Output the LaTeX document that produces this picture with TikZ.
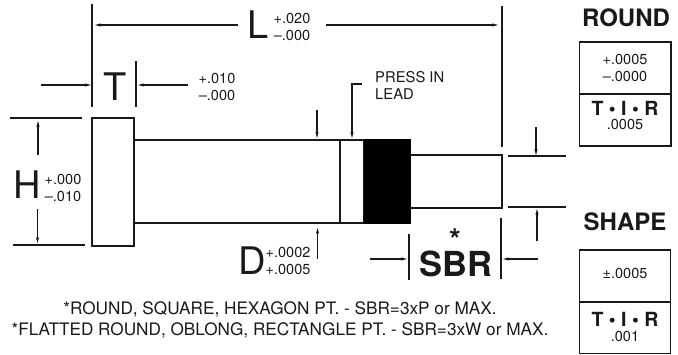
\documentclass[tikz,border=0pt]{standalone}
\usepackage{fontspec}
\setmainfont{TeX Gyre Heros}
\usetikzlibrary{arrows.meta}
\tikzset{
  part/.style={draw=black!90,line width=1.8pt},
  ext/.style={draw=black!90,line width=1.2pt},
  dim/.style={draw=black!90,line width=1.3pt,-{Stealth[length=6pt,width=3.2pt]}},
  big/.style={inner sep=0,font=\fontsize{38}{38}\selectfont,text=black!90},
  tol/.style={inner sep=0,font=\fontsize{14.5}{14.5}\selectfont,text=black!90},
  heading/.style={inner sep=0,font=\fontsize{24}{24}\selectfont\bfseries,text=black!90},
  note/.style={inner sep=0,font=\fontsize{17.2}{17.2}\selectfont,text=black!90},
  tir/.style={inner sep=0,font=\fontsize{19.5}{19.5}\selectfont\bfseries,text=black!90},
  cell/.style={draw=black!90,line width=1.2pt},
}
\begin{document}
\begin{tikzpicture}[x=1pt,y=-1pt]
\useasboundingbox (0,0) rectangle (678,354);
% part
\draw[part] (134,140) -- (340,140) (134,223) -- (340,223);
\draw[part] (92,118) rectangle (134,246);
\draw[part] (340,140) rectangle (364,223);
\fill[black] (364,139) rectangle (411,224);
\draw[part] (411,155) -- (502,155) -- (502,208) -- (411,208);
% extension lines
\draw[ext] (92,4) -- (92,107);
\draw[ext] (502,6) -- (502,147);
\draw[ext] (136,61) -- (136,107);
\draw[ext] (10,118) -- (82,118);
\draw[ext] (13,245) -- (85,245);
\draw[ext] (508,156) -- (566,156);
\draw[ext] (508,207) -- (566,207);
\draw[ext] (409,234) -- (409,280);
\draw[ext] (501,218) -- (501,279);
% labels
\node[big] (L) at (258,25) {L};
\node[tol] (Lp) at (292,18) {+.020};
\node[tol] (Lm) at (292,35) {–.000};
\node[big] (T) at (115,87) {T};
\node[tol] (Tp) at (217,78) {+.010};
\node[tol] (Tm) at (217,95) {–.000};
\node[big] (H) at (27,185) {H};
\node[tol] (Hp) at (63,179) {+.000};
\node[tol] (Hm) at (63,196) {–.010};
\node[big] (D) at (252,261) {D};
\node[tol] (Dp) at (288,252) {+.0002};
\node[tol] (Dm) at (288,269) {+.0005};
\node[inner sep=0,align=left,anchor=west,font=\fontsize{14.8}{17}\selectfont,text=black!90] (lead) at (375,85) {PRESS IN\\LEAD};
\node[inner sep=0,font=\fontsize{34.5}{34.5}\selectfont\bfseries,text=black!90] (sbr) at (456,264) {SBR};
\node[inner sep=0,font=\fontsize{30}{30}\selectfont\bfseries,text=black!90] (star) at (455,240) {*};
\node[note] (n1) at (280,309) {*ROUND, SQUARE, HEXAGON PT. - SBR=3xP or MAX.};
\node[note] (n2) at (280,330) {*FLATTED ROUND, OBLONG, RECTANGLE PT. - SBR=3xW or MAX.};
% dimension arrows
\coordinate (a1) at (238,25); \coordinate (a2) at (95,25);
\draw[dim] (a1) -- (a2);
\coordinate (a3) at (326,25); \coordinate (a4) at (498,25);
\draw[dim] (a3) -- (a4);
\coordinate (b1) at (41,85); \coordinate (b2) at (91,85);
\draw[dim] (b1) -- (b2);
\coordinate (b3) at (188,85); \coordinate (b4) at (138,85);
\draw[dim] (b3) -- (b4);
\coordinate (c1) at (38,155); \coordinate (c2) at (38,121);
\draw[dim] (c1) -- (c2);
\coordinate (c3) at (37.5,209); \coordinate (c4) at (37.5,243);
\draw[dim] (c3) -- (c4);
\coordinate (d1) at (317,110); \coordinate (d2) at (317,138);
\draw[dim] (d1) -- (d2);
\coordinate (d3) at (317.5,259); \coordinate (d4) at (317.5,228);
\draw[dim] (d3) -- (d4);
\coordinate (e1) at (362,84); \coordinate (e2) at (352,84); \coordinate (e3) at (352,138);
\draw[dim] (e1) -- (e2) -- (e3);
\coordinate (f1) at (536,127); \coordinate (f2) at (536,155);
\draw[dim] (f1) -- (f2);
\coordinate (f3) at (537,241); \coordinate (f4) at (537,209);
\draw[dim] (f3) -- (f4);
\coordinate (g1) at (370,259); \coordinate (g2) at (407,259);
\draw[dim] (g1) -- (g2);
\coordinate (g3) at (538,259); \coordinate (g4) at (503,259);
\draw[dim] (g3) -- (g4);
% tables
\node[heading] (round) at (626,18) {ROUND};
\draw[cell] (579.5,42) rectangle (671,146);
\draw[cell] (579.5,94) -- (671,94);
\node[tol] (r1) at (625,59) {+.0005};
\node[tol] (r2) at (625,76) {–.0000};
\node[tir] (r3) at (625,108) {T • I • R};
\node[tol] (r4) at (625,124) {.0005};
\node[heading] (shape) at (625,222) {SHAPE};
\draw[cell] (579.5,250) rectangle (670.5,353.5);
\draw[cell] (579.5,302) -- (670.5,302);
\node[tol] (s1) at (625,273) {±.0005};
\node[tir] (s2) at (625,319) {T • I • R};
\node[tol] (s3) at (625,336) {.001};
\end{tikzpicture}
\end{document}
